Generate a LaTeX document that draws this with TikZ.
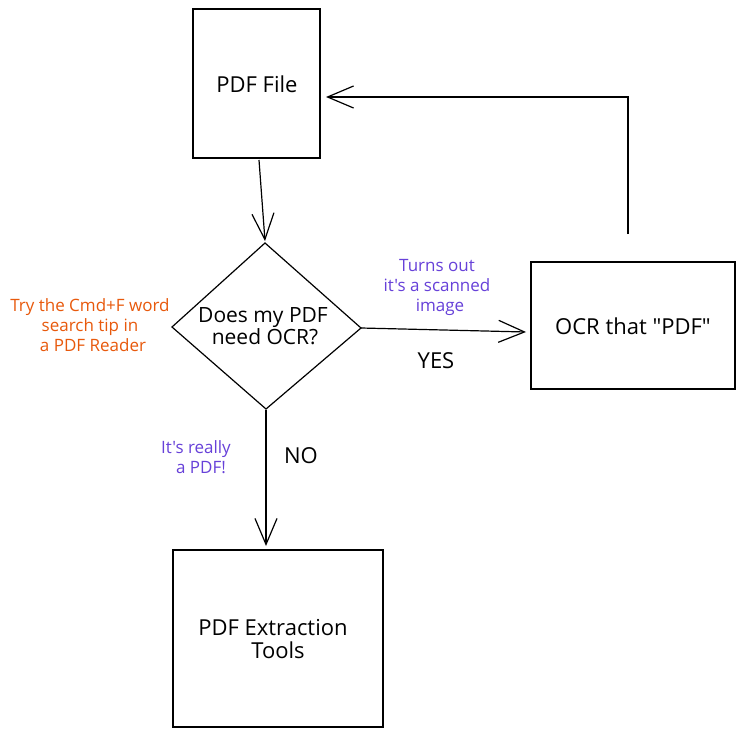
\documentclass[tikz,border=0pt]{standalone}
\usepackage{fontspec}
\setmainfont{Open Sans}[Ligatures=TeXOff]
\usetikzlibrary{arrows.meta}
\definecolor{violetink}{HTML}{6741D9}
\definecolor{orangeink}{HTML}{E8590C}
\tikzset{
  x=1pt,y=-1pt,
  ink/.style={draw=black,line width=1.2pt},
  boxnode/.style={ink,fill=white,inner sep=0pt},
  conn/.style={ink,-{Straight Barb[length=26pt,width=22pt,line width=1.2pt]}},
  plain/.style={ink},
  lab/.style={font=\fontsize{22}{22.5}\selectfont,align=center,inner sep=0pt},
  dlab/.style={font=\fontsize{21}{22.5}\selectfont,align=center,inner sep=0pt},
  notev/.style={font=\fontsize{17}{20}\selectfont,align=center,text=violetink,inner sep=0pt},
  noteo/.style={font=\fontsize{17}{20}\selectfont,align=center,text=orangeink,inner sep=0pt},
}
\begin{document}
\begin{tikzpicture}
\useasboundingbox[fill=white] (0,0) rectangle (744,738);
% boxes
\node[boxnode,minimum width=127pt,minimum height=149pt] (pdf) at (256.5,83.5) {};
\node[lab] (pdft) at (257,84) {PDF File};
\node[boxnode,minimum width=204pt,minimum height=127pt] (ocr) at (633,325.5) {};
\node[lab] (ocrt) at (633,326) {OCR that "PDF"};
\node[boxnode,minimum width=210pt,minimum height=177pt] (ext) at (278,638.5) {};
\node[lab] (extt) at (273,639) {PDF Extraction\\\hspace*{10pt}Tools};
% diamond
\coordinate (dt) at (265,243);
\coordinate (dl) at (172,327);
\coordinate (dr) at (361,328);
\coordinate (db) at (266,409);
\draw[plain] (dt) -- (dr) -- (db) -- (dl) -- cycle;
\node[dlab] (dq) at (263,326) {Does my PDF\\\hspace*{4pt}need OCR?};
% connectors
\coordinate (a1s) at (259,160);
\coordinate (a1e) at (265,241);
\draw[conn] (a1s) -- (a1e);
\coordinate (a2e) at (526,332);
\draw[conn] (dr) -- (a2e);
\coordinate (a3s) at (266,410);
\coordinate (a3e) at (266,546);
\draw[conn] (a3s) -- (a3e);
\coordinate (a4s) at (628,234);
\coordinate (a4c) at (628,97);
\coordinate (a4e) at (326,97);
\draw[conn] (a4s) -- (a4c) -- (a4e);
% labels
\node[notev] (turns) at (437,287) {Turns out\\it's a scanned\\\hspace*{6pt}image};
\node[lab] (yes) at (436,361) {YES};
\node[noteo] (tip) at (90,325) {Try the Cmd+F word\\search tip in\\\hspace*{6pt}a PDF Reader};
\node[notev] (really) at (196,457) {It's really\\\hspace*{10pt}a PDF!};
\node[lab] (no) at (301,456) {NO};
\end{tikzpicture}
\end{document}
